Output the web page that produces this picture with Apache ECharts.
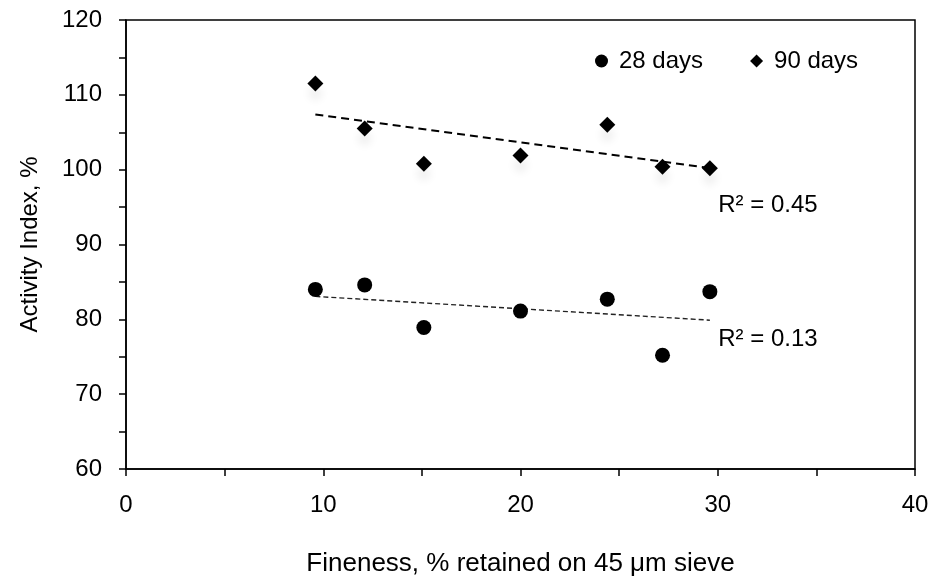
<!DOCTYPE html>
<html>
<head>
<meta charset="utf-8">
<title>Activity Index vs Fineness</title>
<script src="https://cdn.jsdelivr.net/npm/echarts@6/dist/echarts.min.js"></script>
<style>
  html, body { margin: 0; padding: 0; background: #fff; }
  #chart { width: 935px; height: 582px; }
</style>
</head>
<body>
<div id="chart"></div>
<script>
// Fineness (% retained on 45 µm sieve) for each sample
const fineness = [9.6, 12.1, 15.1, 20.0, 24.4, 27.2, 29.6];
// Strength activity index, %
const index28 = [84.0, 84.6, 78.9, 81.1, 82.7, 75.2, 83.7];
const index90 = [111.5, 105.5, 100.8, 101.9, 106.0, 100.4, 100.2];
// Axis ticks
const xTicks = [0, 10, 20, 30, 40];
const yTicks = [60, 70, 80, 90, 100, 110, 120];
// Coefficients of determination shown beside the fits
const r2Labels = ['R² = 0.13', 'R² = 0.45'];
// Where each R² note sits, in data units
const r2Anchors = [[30.05, 77.3], [30.05, 95.2]];

const FONT = '"Liberation Sans", Arial, sans-serif';

// Least-squares straight line across the sampled fineness range
function linearFit(xs, ys) {
  const n = xs.length;
  const mx = xs.reduce((a, b) => a + b, 0) / n;
  const my = ys.reduce((a, b) => a + b, 0) / n;
  let sxy = 0, sxx = 0;
  for (let i = 0; i < n; i++) {
    sxy += (xs[i] - mx) * (ys[i] - my);
    sxx += (xs[i] - mx) * (xs[i] - mx);
  }
  const slope = sxy / sxx;
  const x0 = Math.min(...xs), x1 = Math.max(...xs);
  return [[x0, my + slope * (x0 - mx)], [x1, my + slope * (x1 - mx)]];
}

const pairs = (ys) => fineness.map((x, i) => [x, ys[i]]);

const chart = echarts.init(document.getElementById('chart'), null, { renderer: 'canvas' });

chart.setOption({
  animation: false,
  backgroundColor: '#fff',
  textStyle: { fontFamily: FONT, color: '#000' },
  grid: {
    left: 126, right: 20, top: 20, bottom: 110,
    show: true, borderColor: '#000', borderWidth: 1.5, backgroundColor: 'transparent'
  },
  legend: {
    left: 595, top: 49, padding: 0,
    itemWidth: 13, itemHeight: 13, itemGap: 47,
    textStyle: { fontFamily: FONT, fontSize: 24, color: '#000', padding: [0, 0, 0, 6] },
    data: [
      { name: '28 days', icon: 'circle' },
      { name: '90 days', icon: 'diamond' }
    ]
  },
  xAxis: {
    type: 'value',
    min: xTicks[0], max: xTicks[xTicks.length - 1], interval: 10,
    name: 'Fineness, % retained on 45 μm sieve',
    nameLocation: 'middle', nameGap: 82,
    nameTextStyle: { fontFamily: FONT, fontSize: 26, color: '#000' },
    axisLine: { show: true, onZero: false, lineStyle: { color: '#000', width: 1.5 } },
    axisTick: { show: true, inside: false, length: 7, lineStyle: { color: '#000', width: 1.5 } },
    minorTick: { show: true, splitNumber: 2, length: 7, lineStyle: { color: '#000', width: 1.5 } },
    axisLabel: { margin: 24, fontSize: 24, color: '#000', fontFamily: FONT },
    splitLine: { show: false }
  },
  yAxis: {
    type: 'value',
    min: yTicks[0], max: yTicks[yTicks.length - 1], interval: 10,
    name: 'Activity Index, %',
    nameLocation: 'middle', nameGap: 84,
    nameTextStyle: { fontFamily: FONT, fontSize: 24, color: '#000' },
    axisLine: { show: true, onZero: false, lineStyle: { color: '#000', width: 1.5 } },
    axisTick: { show: true, inside: false, length: 7, lineStyle: { color: '#000', width: 1.5 } },
    minorTick: { show: true, splitNumber: 2, length: 7, lineStyle: { color: '#000', width: 1.5 } },
    axisLabel: { margin: 24, fontSize: 24, color: '#000', fontFamily: FONT },
    splitLine: { show: false }
  },
  series: [
    {
      name: '28 days trend',
      type: 'line',
      data: linearFit(fineness, index28),
      symbol: 'none',
      lineStyle: { color: '#222', width: 1.4, type: [5, 3] },
      z: 2,
      silent: true
    },
    {
      name: '90 days trend',
      type: 'line',
      data: linearFit(fineness, index90),
      symbol: 'none',
      lineStyle: { color: '#000', width: 2, type: [8, 5] },
      z: 2,
      silent: true
    },
    {
      name: '28 days',
      type: 'scatter',
      symbol: 'circle',
      symbolSize: 15,
      itemStyle: { color: '#000', opacity: 1 },
      data: pairs(index28),
      z: 3
    },
    {
      name: '90 days',
      type: 'scatter',
      symbol: 'diamond',
      symbolSize: 16,
      itemStyle: {
        color: '#000', opacity: 1,
        shadowColor: 'rgba(0,0,0,0.07)', shadowBlur: 8, shadowOffsetY: 10
      },
      data: pairs(index90),
      z: 3
    },
    {
      name: 'R² notes',
      type: 'scatter',
      symbolSize: 1,
      silent: true,
      itemStyle: { color: '#fff', opacity: 1 },
      label: {
        show: true,
        position: [0, 0],
        align: 'left',
        verticalAlign: 'middle',
        fontFamily: FONT,
        fontSize: 24,
        color: '#000',
        textBorderWidth: 0,
        formatter: (p) => r2Labels[p.dataIndex]
      },
      data: r2Anchors,
      z: 4
    }
  ]
});
</script>
</body>
</html>
